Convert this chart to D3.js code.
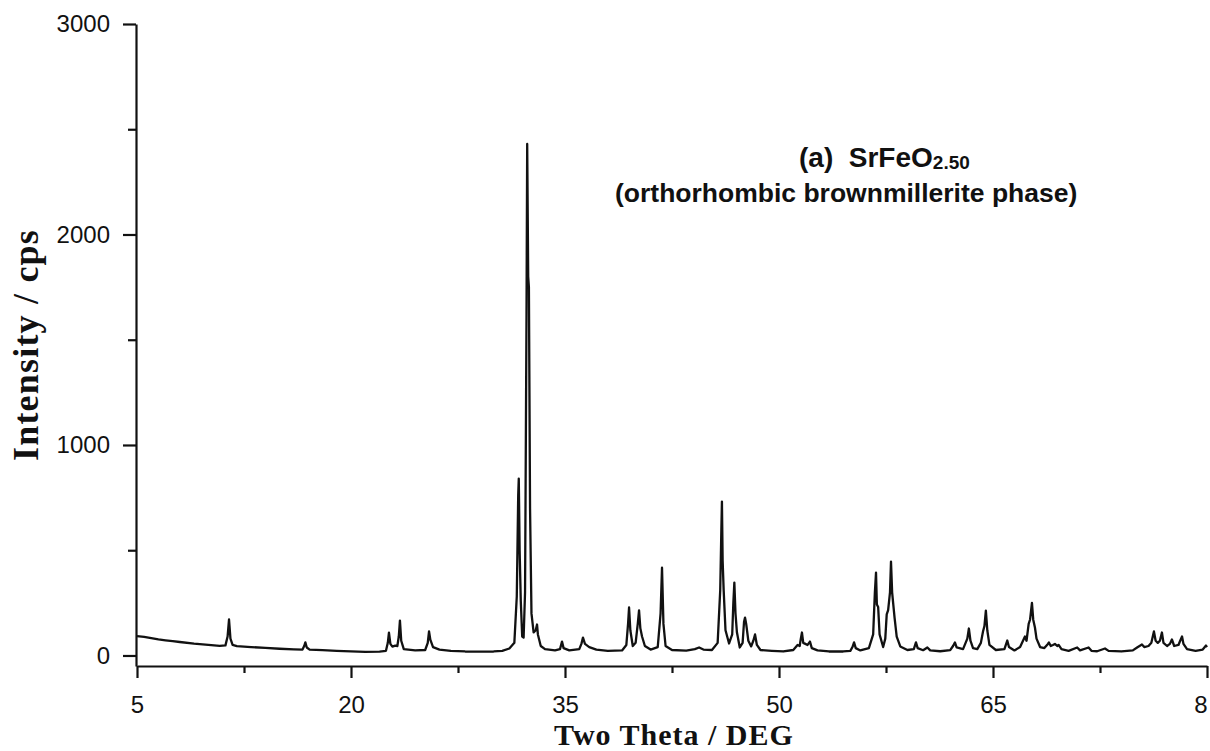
<!DOCTYPE html>
<html>
<head>
<meta charset="utf-8">
<script src="https://cdn.jsdelivr.net/npm/d3@7"></script>
<style>
  html, body { margin: 0; padding: 0; background: #fff; overflow: hidden; }
  svg { display: block; }
</style>
</head>
<body>
<svg id="chart" width="1210" height="751"></svg>
<script>
// ---- data ----
const twoTheta = [
  5.0, 5.5, 6.0, 6.5, 7.0, 7.5, 8.0, 9.0, 10.0, 10.8, 11.2, 11.35, 11.45, 11.55, 11.7, 12.0,
  13.0, 14.0, 15.0, 16.0, 16.6, 16.72, 16.8, 16.9, 17.1, 18.0, 19.0, 20.0, 21.0, 22.0,
  22.45, 22.58, 22.66, 22.76, 22.9, 23.1, 23.25, 23.35, 23.43, 23.52, 23.7, 24.5,
  25.2, 25.38, 25.47, 25.56, 25.75, 26.2, 27.0, 28.0, 29.0, 30.0, 30.6, 31.1,
  31.45, 31.62, 31.72, 31.76, 31.82, 31.9, 32.0, 32.1, 32.2, 32.3, 32.35, 32.42, 32.47,
  32.55, 32.65, 32.8, 32.95, 33.04, 33.1, 33.3, 33.6, 34.3, 34.65, 34.79, 34.9, 35.3,
  36.0, 36.15, 36.26, 36.4, 36.7, 37.2, 38.0, 39.0, 39.3, 39.42, 39.49, 39.58, 39.75,
  39.95, 40.1, 40.19, 40.28, 40.4, 40.6, 41.0, 41.5, 41.7, 41.8, 41.9, 42.05, 42.5,
  43.5, 44.1, 44.4, 44.7, 45.3, 45.7, 45.88, 45.96, 46.0, 46.05, 46.12, 46.25, 46.5,
  46.72, 46.8, 46.87, 46.95, 47.05, 47.25, 47.45, 47.55, 47.62, 47.7, 47.85, 48.05,
  48.2, 48.32, 48.45, 48.7, 49.5, 50.3, 51.0, 51.3, 51.45, 51.53, 51.61, 51.7, 51.85,
  52.0, 52.17, 52.3, 52.7, 53.5, 54.5, 55.0, 55.15, 55.26, 55.38, 55.7, 56.3, 56.6,
  56.72, 56.8, 56.86, 56.95, 57.05, 57.3, 57.45, 57.55, 57.65, 57.78, 57.85, 57.93,
  58.0, 58.1, 58.25, 58.5, 59.0, 59.45, 59.6, 59.72, 60.1, 60.4, 60.6, 61.3, 62.0,
  62.2, 62.33, 62.45, 62.9, 63.2, 63.31, 63.42, 63.6, 63.9, 64.15, 64.3, 64.4, 64.5,
  64.6, 64.75, 65.2, 65.8, 66.0, 66.12, 66.5, 66.9, 67.24, 67.35, 67.5, 67.6, 67.73,
  67.82, 67.94, 68.05, 68.3, 68.6, 68.85, 68.92, 69.05, 69.2, 69.34, 69.5, 69.6, 69.8,
  70.3, 70.9, 71.1, 71.7, 71.9, 72.3, 72.85, 73.1, 74.0, 74.8, 75.1, 75.44, 75.6,
  75.9, 76.1, 76.28, 76.4, 76.55, 76.7, 76.84, 76.95, 77.2, 77.4, 77.54, 77.7, 78.0,
  78.12, 78.25, 78.35, 78.6, 79.2, 79.7, 79.93, 80.0
];
const intensity = [
  92, 88, 82, 76, 72, 68, 64, 56, 50, 46, 48, 90, 171, 80, 50, 44,
  40, 36, 32, 29, 28, 45, 62, 38, 28, 25, 22, 19, 17, 18,
  22, 60, 109, 55, 42, 47, 45, 90, 166, 70, 30, 24,
  26, 60, 114, 75, 40, 28, 22, 19, 18, 19, 22, 33,
  60, 280, 760, 840, 500, 260, 90, 85, 300, 1600, 2430, 1800, 1750,
  700, 200, 110, 120, 147, 100, 45, 30, 24, 30, 66, 35, 24,
  30, 55, 85, 55, 40, 28, 22, 24, 50, 150, 228, 120, 45,
  60, 150, 214, 130, 90, 45, 28, 40, 200, 417, 150, 45, 26,
  23, 30, 38, 28, 26, 60, 310, 600, 731, 450, 313, 120, 57,
  100, 250, 346, 200, 110, 38, 60, 160, 180, 150, 70, 43,
  70, 100, 50, 26, 22, 19, 26, 50, 45, 80, 109, 60, 55,
  50, 66, 35, 24, 19, 19, 22, 40, 62, 35, 24, 35, 100,
  300, 394, 242, 230, 100, 40, 80, 195, 215, 300, 446, 300,
  250, 180, 90, 43, 26, 30, 62, 35, 25, 38, 24, 20, 25,
  45, 62, 38, 30, 80, 128, 70, 35, 30, 60, 114, 140, 213,
  120, 50, 26, 30, 71, 40, 24, 40, 90, 70, 150, 171, 250,
  170, 133, 80, 40, 35, 55, 62, 45, 50, 55, 45, 50, 30,
  22, 38, 24, 38, 22, 20, 33, 22, 19, 24, 38, 52, 40,
  45, 60, 114, 70, 60, 70, 109, 60, 45, 55, 76, 45, 50,
  70, 90, 55, 30, 22, 28, 47, 40
];
const xTickValues = [5, 20, 35, 50, 65, 80];
const xTickLabels = ["5", "20", "35", "50", "65", "8"];   // last label appears cut to "8" in the reference
const xMinorTicks = [12.5, 27.5, 42.5, 57.5, 72.5];
const yTickValues = [0, 1000, 2000, 3000];
const yTickLabels = ["0", "1000", "2000", "3000"];
const yMinorTicks = [500, 1500, 2500];
const xTitle = "Two Theta / DEG";
const yTitle = "Intensity / cps";
const annotLine1 = "(a)  SrFeO";
const annotSub = "2.50";
const annotLine2 = "(orthorhombic brownmillerite phase)";

// ---- drawing ----
const svg = d3.select("#chart");
const x = d3.scaleLinear().domain([5, 80]).range([137, 1207]);
const y = d3.scaleLinear().domain([-50, 3000]).range([666, 24]);

const sansFont = "'Liberation Sans', Arial, sans-serif";
const serifFont = "'Liberation Serif', 'Times New Roman', serif";

// X axis
const gx = svg.append("g").attr("transform", "translate(0,666)");
gx.call(d3.axisBottom(x).tickValues(xTickValues)
  .tickFormat((d, i) => xTickLabels[i]).tickSize(12).tickSizeOuter(0).tickPadding(18));
// the clipped last label sits at the left half of where "80" would be centred
gx.selectAll(".tick text").filter((d, i) => i === xTickValues.length - 1)
  .attr("text-anchor", "end");
const gxm = svg.append("g").attr("transform", "translate(0,666)");
gxm.call(d3.axisBottom(x).tickValues(xMinorTicks).tickFormat("").tickSize(7).tickSizeOuter(0));
gxm.select(".domain").remove();

// Y axis
const gy = svg.append("g").attr("transform", "translate(136,0)");
gy.call(d3.axisLeft(y).tickValues(yTickValues)
  .tickFormat((d, i) => yTickLabels[i]).tickSize(13).tickSizeOuter(0).tickPadding(13));
const gym = svg.append("g").attr("transform", "translate(136,0)");
gym.call(d3.axisLeft(y).tickValues(yMinorTicks).tickFormat("").tickSize(8).tickSizeOuter(0));
gym.select(".domain").remove();

svg.selectAll(".domain, .tick line")
  .attr("stroke", "#111").attr("stroke-width", 2.2);
svg.selectAll(".tick text")
  .attr("fill", "#111")
  .style("font-family", sansFont)
  .style("font-size", "24px");

// Data line
const pts = twoTheta.map((t, i) => [t, intensity[i]]);
svg.append("path")
  .datum(pts)
  .attr("fill", "none")
  .attr("stroke", "#111")
  .attr("stroke-width", 2.3)
  .attr("stroke-linejoin", "round")
  .attr("d", d3.line().x(d => x(d[0])).y(d => y(d[1])));

// Axis titles
svg.append("text")
  .attr("x", 674).attr("y", 745)
  .attr("text-anchor", "middle")
  .style("font-family", serifFont)
  .style("font-weight", "bold")
  .style("font-size", "30px")
  .style("letter-spacing", "1px")
  .attr("fill", "#111")
  .text(xTitle);

svg.append("text")
  .attr("transform", "translate(38,345) rotate(-90)")
  .attr("text-anchor", "middle")
  .style("font-family", serifFont)
  .style("font-weight", "bold")
  .style("font-size", "36px")
  .style("letter-spacing", "1.2px")
  .attr("fill", "#111")
  .text(yTitle);

// Annotation
const t1 = svg.append("text")
  .attr("x", 799).attr("y", 167)
  .style("font-family", sansFont)
  .style("font-weight", "bold")
  .style("font-size", "28px")
  .attr("fill", "#111")
  .attr("xml:space", "preserve");
t1.append("tspan").text(annotLine1);
t1.append("tspan").attr("dy", 2).style("font-size", "19px").text(annotSub);

svg.append("text")
  .attr("x", 615).attr("y", 202)
  .style("font-family", sansFont)
  .style("font-weight", "bold")
  .style("font-size", "26.5px")
  .attr("fill", "#111")
  .text(annotLine2);
</script>
</body>
</html>
